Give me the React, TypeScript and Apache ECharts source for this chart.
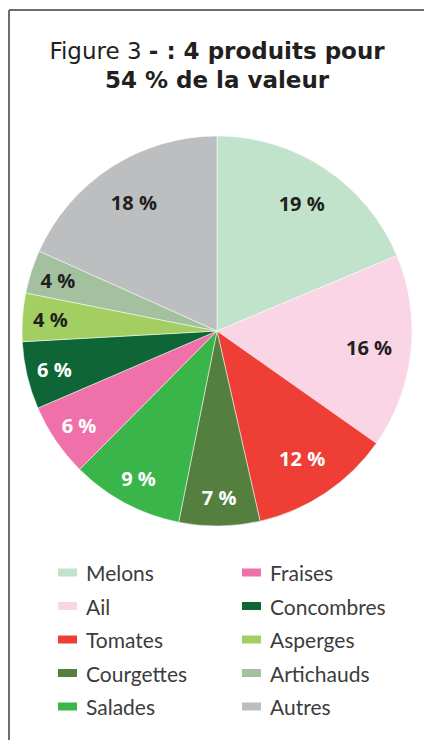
import React, { useEffect, useRef } from "react";
import * as echarts from "echarts";

const categories = ["Melons", "Ail", "Tomates", "Courgettes", "Salades", "Fraises", "Concombres", "Asperges", "Artichauds", "Autres"];
const values = [18.7, 16.1, 11.7, 6.7, 9.3, 6.1, 5.6, 4.0, 3.6, 18.3];
const legendCol1 = ["Melons", "Ail", "Tomates", "Courgettes", "Salades"];
const legendCol2 = ["Fraises", "Concombres", "Asperges", "Artichauds", "Autres"];
const titleLine1Normal = "Figure 3 ";
const titleLine1Bold = "- : 4 produits pour";
const titleLine2 = "54 % de la valeur";

const colors = ["#c1e2cb", "#f9d5e5", "#ef3e36", "#547f3f", "#3ab54a", "#f071a9", "#0e6637", "#a3cf62", "#a3c19f", "#bcbec0"];
const labelColors = ["#231f20", "#231f20", "#ffffff", "#ffffff", "#ffffff", "#ffffff", "#ffffff", "#231f20", "#231f20", "#231f20"];

export default function App() {
  const ref = useRef<HTMLDivElement>(null);
  useEffect(() => {
    document.body.style.margin = "0";
    const chart = echarts.init(ref.current!, null, { renderer: "svg" });
    const center = [217, 331];
    const labelFont = { fontFamily: "Open Sans", fontWeight: "bold", fontSize: 20 };
    const mkLabelData = (big: boolean) =>
      categories.map((c, i) => {
        const isBig = values[i] >= 10;
        return {
          name: c,
          value: values[i],
          label: {
            show: isBig === big,
            position: "inside",
            formatter: () => Math.round(values[i]) + " %",
            color: labelColors[i],
            ...labelFont,
          },
        };
      });
    const legendBase = {
      orient: "vertical",
      top: 562,
      padding: 0,
      itemWidth: 21,
      itemHeight: 10,
      itemGap: 12.5,
      icon: "rect",
      selectedMode: false,
      textStyle: { fontFamily: "Lato", fontSize: 21, color: "#3c3c3c", lineHeight: 20, height: 20, padding: [0, 0, 0, 3] },
    };
    chart.setOption({
      animation: false,
      color: colors,
      legend: [
        { ...legendBase, left: 56, data: legendCol1 },
        { ...legendBase, left: 240, data: legendCol2 },
      ],
      graphic: [
        { type: "line", shape: { x1: 9, y1: 10, x2: 424, y2: 10 }, style: { stroke: "#6d6e71", lineWidth: 2 } },
        { type: "line", shape: { x1: 9, y1: 10, x2: 9, y2: 740 }, style: { stroke: "#6d6e71", lineWidth: 2 } },
        {
          type: "text",
          x: 217,
          y: 36,
          style: {
            text: `{n|${titleLine1Normal}}{b|${titleLine1Bold}}\n{b|${titleLine2}}`,
            align: "center",
            verticalAlign: "top",
            rich: {
              n: { fontFamily: "DejaVu Sans", fontSize: 23, fill: "#231f20", lineHeight: 29 },
              b: { fontFamily: "DejaVu Sans", fontWeight: "bold", fontSize: 23, fill: "#231f20", lineHeight: 29 },
            },
          },
        },
      ],
      series: [
        {
          type: "pie",
          center,
          radius: [0, 195],
          startAngle: 90,
          clockwise: true,
          label: { show: false },
          labelLine: { show: false },
          itemStyle: { borderColor: "#ffffff", borderWidth: 0.5 },
          emphasis: { disabled: true },
          data: categories.map((c, i) => ({ name: c, value: values[i] })),
        },
        {
          type: "pie",
          center,
          radius: [100, 200],
          startAngle: 90,
          silent: true,
          legendHoverLink: false,
          itemStyle: { color: "rgba(0,0,0,0)" },
          labelLine: { show: false },
          emphasis: { disabled: true },
          data: mkLabelData(true),
        },
        {
          type: "pie",
          center,
          radius: [128, 200],
          startAngle: 90,
          silent: true,
          legendHoverLink: false,
          itemStyle: { color: "rgba(0,0,0,0)" },
          labelLine: { show: false },
          emphasis: { disabled: true },
          data: mkLabelData(false),
        },
      ],
    });
    return () => chart.dispose();
  }, []);
  return <div ref={ref} style={{ width: 424, height: 740 }} />;
}
